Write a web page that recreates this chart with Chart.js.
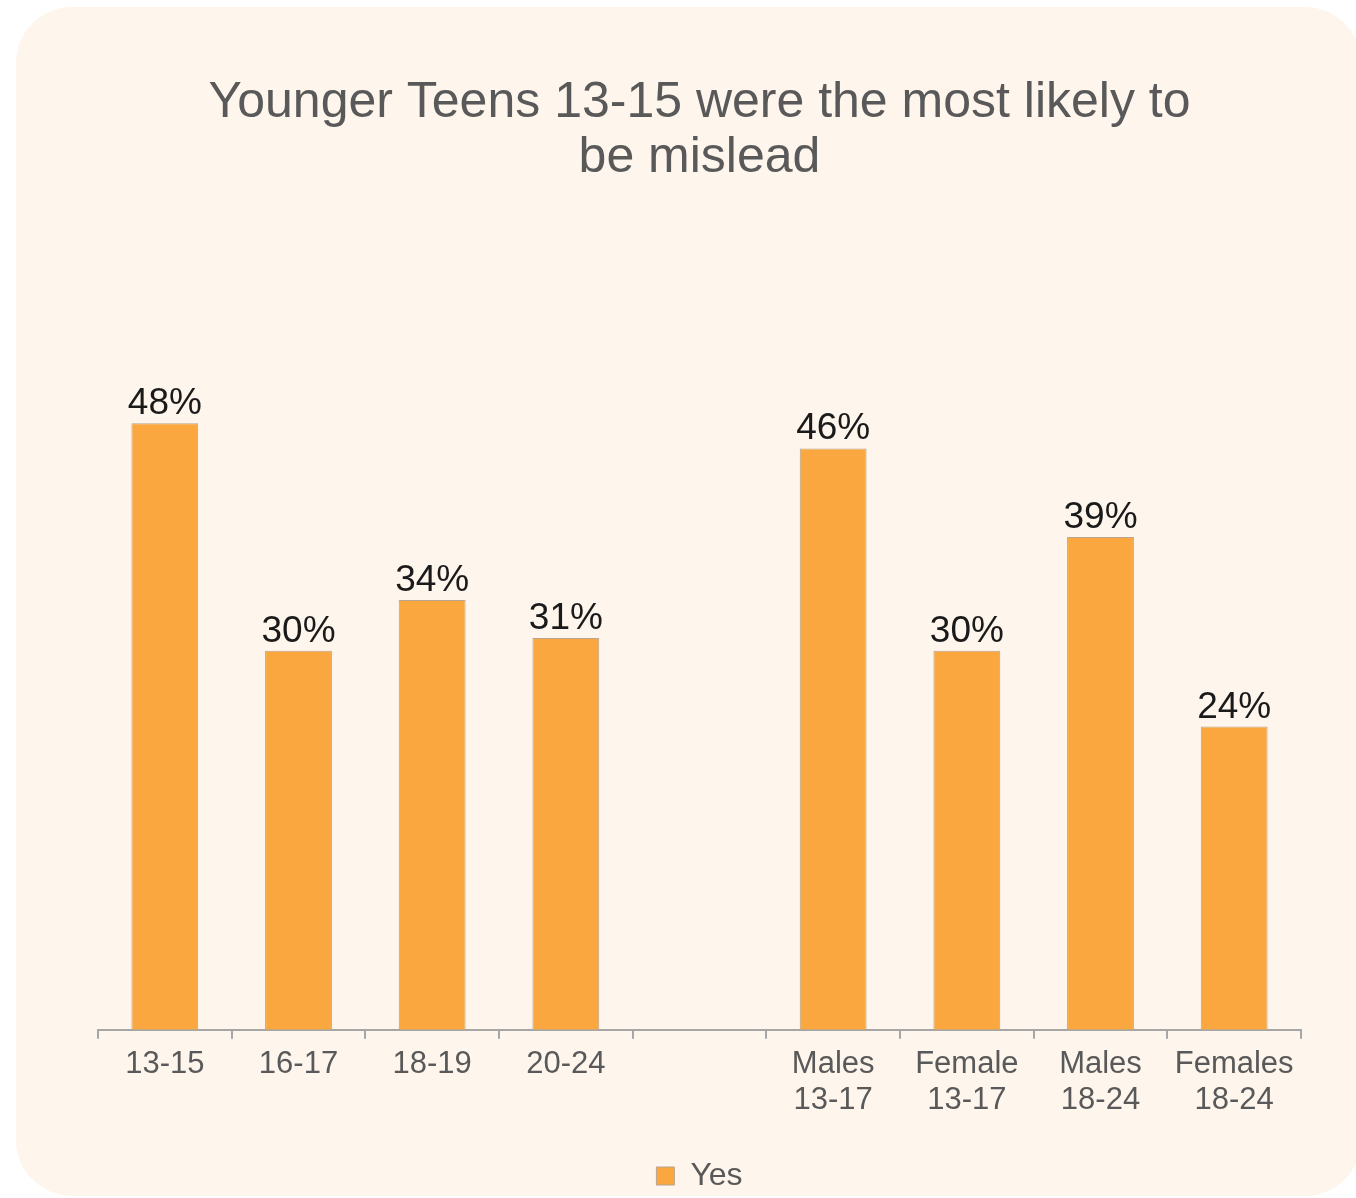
<!DOCTYPE html>
<html>
<head>
<meta charset="utf-8">
<script src="https://cdn.jsdelivr.net/npm/chart.js@4.4.0/dist/chart.umd.min.js"></script>
<style>
  body { margin: 0; background: #ffffff; }
  #card { position: absolute; left: 16px; top: 7px; width: 1345px; height: 1189px; background: #fef5ec; border-radius: 56px; }
  #wrap { position: absolute; left: 0; top: 0; width: 1356px; height: 1198px; }
</style>
</head>
<body>
<div id="card"></div>
<div id="wrap"><canvas id="myBarChart"></canvas></div>
<script>
  var labels = ['13-15', '16-17', '18-19', '20-24', '', ['Males', '13-17'], ['Female', '13-17'], ['Males', '18-24'], ['Females', '18-24']];
  var yesData = [48, 30, 34, 31, null, 46, 30, 39, 24];

  // 棒の上に値を表示する
  var valueLabels = {
    id: 'valueLabels',
    afterDatasetsDraw: function(chart) {
      var ctx = chart.ctx;
      var meta = chart.getDatasetMeta(0);
      ctx.save();
      ctx.font = '37px "Liberation Sans", Arial, sans-serif';
      ctx.fillStyle = '#1a1a1a';
      ctx.textAlign = 'center';
      ctx.textBaseline = 'alphabetic';
      meta.data.forEach(function(bar, i) {
        if (yesData[i] == null) return;
        ctx.fillText(yesData[i] + '%', bar.x, bar.y - 9);
      });
      ctx.restore();
    }
  };

  var ctx = document.getElementById('myBarChart').getContext('2d');
  var myBarChart = new Chart(ctx, {
    type: 'bar',
    data: {
      labels: labels,
      datasets: [{
        label: 'Yes',
        data: yesData,
        backgroundColor: '#fba73f',
        borderColor: '#b9a48e',
        borderWidth: 1,
        barPercentage: 0.5,
        categoryPercentage: 1.0
      }]
    },
    options: {
      responsive: true,
      maintainAspectRatio: false,
      animation: false,
      layout: { padding: { left: 98, right: 55, top: 76, bottom: -4 } },
      plugins: {
        title: {
          display: true,
          text: ['Younger Teens 13-15 were the most likely to', 'be mislead'],
          color: '#595959',
          font: { family: '"Liberation Sans", Arial, sans-serif', size: 50, weight: 'normal', lineHeight: 1.1 },
          padding: { top: 0, bottom: 85.5 }
        },
        legend: {
          position: 'bottom',
          labels: {
            color: '#595959',
            boxWidth: 18,
            boxHeight: 18,
            padding: 34,
            font: { family: '"Liberation Sans", Arial, sans-serif', size: 32, lineHeight: 0.85 }
          }
        },
        tooltip: { enabled: false }
      },
      scales: {
        x: {
          grid: { display: true, drawOnChartArea: false, drawTicks: true, tickLength: 9, color: '#a6a6a6', lineWidth: 2, offset: true },
          border: { display: true, color: '#a6a6a6', width: 2 },
          ticks: {
            color: '#595959',
            padding: 7,
            maxRotation: 0,
            autoSkip: false,
            font: { family: '"Liberation Sans", Arial, sans-serif', size: 31, lineHeight: 1.18 }
          }
        },
        y: {
          display: false,
          beginAtZero: true,
          min: 0,
          max: 60
        }
      }
    },
    plugins: [valueLabels]
  });
</script>
</body>
</html>
